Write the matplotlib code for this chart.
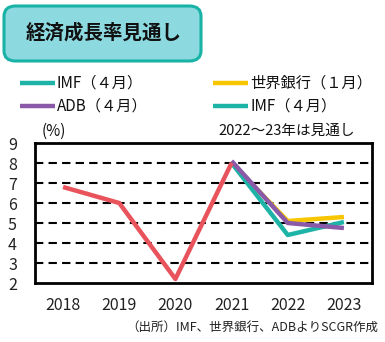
import matplotlib
matplotlib.use("Agg")
import matplotlib.pyplot as plt
from matplotlib.patches import FancyBboxPatch
from matplotlib.lines import Line2D

plt.rcParams['font.family'] = ['Noto Sans CJK JP', 'DejaVu Sans']

years = ["2018", "2019", "2020", "2021", "2022", "2023"]
actual = [6.8, 6.0, 2.2, 8.0]
imf = [8.0, 4.4, 5.05]
wb = [8.0, 5.1, 5.3]
adb = [8.1, 5.0, 4.75]
yticks = [2, 3, 4, 5, 6, 7, 8, 9]

c_red = "#E8535C"
c_teal = "#1DB3A6"
c_yel = "#F7C600"
c_pur = "#8A5AA8"

fig = plt.figure(figsize=(3.85, 3.42), dpi=100)
W, H = 385, 342
ax = fig.add_axes([35/W, 1-283/H, (372-35)/W, (283-143)/H])

x_all = list(range(len(years)))
x_f = x_all[3:]
ax.plot(x_f, wb, color=c_yel, lw=3.2, solid_capstyle='butt', zorder=3)
ax.plot(x_f, imf, color=c_teal, lw=3.2, solid_capstyle='butt', zorder=4)
ax.plot(x_f, adb, color=c_pur, lw=3.2, solid_capstyle='butt', zorder=5)
ax.plot(x_all[:4], actual, color=c_red, lw=3.2, solid_capstyle='butt', zorder=6)

ax.set_xlim(-0.5, 5.5)
ax.set_ylim(2, 9)
ax.set_yticks(yticks)
ax.set_xticks(x_all)
ax.set_xticklabels(years)
for y in yticks[1:-1]:
    ax.axhline(y, color='black', lw=1.5, ls=(0, (4, 2.5)), zorder=1)
for s in ax.spines.values():
    s.set_linewidth(2)
ax.tick_params(axis='both', length=0, labelsize=11.5, colors='#222222')
ax.tick_params(axis='x', pad=10)
ax.tick_params(axis='y', pad=13)

# title box
box = FancyBboxPatch((4/W, 1-61/H), 197/W, 55/H,
                     boxstyle="round,pad=0,rounding_size=0.03",
                     transform=fig.transFigure, facecolor="#8CDAE0",
                     edgecolor="#18B2A6", lw=2.2)
fig.patches.append(box)
fig.text(104/W, 1-33/H, "経済成長率見通し", ha='center', va='center',
         fontsize=14, fontweight='bold', color='#111111')

# legend
handles = [Line2D([], [], color=c_teal, lw=3.2),
           Line2D([], [], color=c_yel, lw=3.2),
           Line2D([], [], color=c_pur, lw=3.2),
           Line2D([], [], color=c_teal, lw=3.2)]
labels = ["IMF（４月）", "世界銀行（１月）", "ADB（４月）", "IMF（４月）"]
pos = [(20, 83), (213, 83), (20, 106), (213, 106)]
for h, l, (px, py) in zip(handles, labels, pos):
    fig.lines.append(Line2D([px/W, (px+35)/W], [1-py/H, 1-py/H], transform=fig.transFigure,
                            color=h.get_color(), lw=3.2, solid_capstyle='butt'))
    fig.text((px+37)/W, 1-py/H, l, ha='left', va='center', fontsize=11, color='#111111')

fig.text(42/W, 1-131/H, "(%)", ha='left', va='center', fontsize=11, color='#111111')
fig.text(355/W, 1-131/H, "2022～23年は見通し", ha='right', va='center', fontsize=10.5, color='#111111')
fig.text(378/W, 1-327/H, "（出所）IMF、世界銀行、ADBよりSCGR作成", ha='right', va='center',
         fontsize=9, color='#222222')

fig.savefig("out.png", dpi=100)
